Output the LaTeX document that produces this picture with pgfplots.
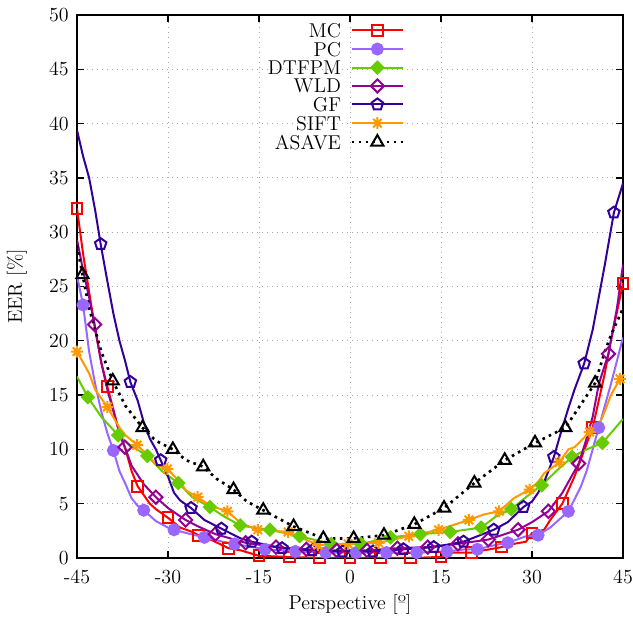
\documentclass[border=0pt]{standalone}
\usepackage{pgfplots}
\pgfplotsset{compat=1.18}
\usetikzlibrary{calc}
\definecolor{cMC}{RGB}{255,0,0}
\definecolor{cPC}{RGB}{153,102,255}
\definecolor{cDT}{RGB}{102,204,0}
\definecolor{cWLD}{RGB}{148,0,148}
\definecolor{cGF}{RGB}{51,0,153}
\definecolor{cSIFT}{RGB}{255,153,0}
\pgfdeclareplotmark{gpstar}{%
  \pgfpathmoveto{\pgfqpoint{-\pgfplotmarksize}{0pt}}\pgfpathlineto{\pgfqpoint{\pgfplotmarksize}{0pt}}%
  \pgfpathmoveto{\pgfqpoint{0pt}{-\pgfplotmarksize}}\pgfpathlineto{\pgfqpoint{0pt}{\pgfplotmarksize}}%
  \pgfpathmoveto{\pgfqpoint{-.707\pgfplotmarksize}{-.707\pgfplotmarksize}}\pgfpathlineto{\pgfqpoint{.707\pgfplotmarksize}{.707\pgfplotmarksize}}%
  \pgfpathmoveto{\pgfqpoint{-.707\pgfplotmarksize}{.707\pgfplotmarksize}}\pgfpathlineto{\pgfqpoint{.707\pgfplotmarksize}{-.707\pgfplotmarksize}}%
  \pgfusepathqstroke}
\begin{document}
\begin{tikzpicture}[font=\fontsize{12}{14}\selectfont]
\begin{axis}[
  scale only axis, width=327.6pt, height=325.8pt,
  xmin=-45, xmax=45, ymin=0, ymax=50,
  xtick={-45,-30,-15,0,15,30,45},
  xticklabels={-45,-30,-15,0,15,30,45},
  ytick={0,5,...,50},
  yticklabels={0,5,10,15,20,25,30,35,40,45,50},
  tick align=inside,
  grid=major,
  grid style={gray!70, dash pattern=on 0.6pt off 2.4pt, line width=0.6pt},
  axis line style={line width=0.8pt},
  major tick style={line width=0.8pt, black},
  major tick length=4pt,
  xticklabel style={yshift=-3.5pt},
  yticklabel style={xshift=-1.5pt},
  xlabel={Perspective [º]}, ylabel={EER [\%]},
  xlabel style={at={(axis description cs:0.5,-0.085)}, anchor=center},
  ylabel style={at={(axis description cs:-0.11,0.5)}, anchor=center},
  legend style={at={(0.474,0.99)}, anchor=north, draw=none, fill=none,
    font=\fontsize{12}{14}\selectfont, row sep=1.8pt, inner sep=1pt,
    nodes={inner sep=0.5pt, text depth=0pt},
    /tikz/every odd column/.append style={column sep=5pt}},
  legend cell align=right,
  legend plot pos=right,
  legend image code/.code={\draw[mark indices={2}] plot coordinates {(0pt,0pt)(15.5pt,0pt)(31pt,0pt)};},
  every axis plot/.append style={line width=1.2pt},
]
% MC
\addplot[cMC, mark=square, mark size=3.2pt, mark options={solid, fill=white, line width=1.2pt},
  mark indices={1,6,10,13,16,18,20,21,22,23,24,25,26,28,30,33,36,39,42}] coordinates {
(-45,32.2)(-44,28)(-43,24.5)(-42,21)(-41,18)(-40,15.8)(-38,11.5)(-37,10)(-36,8)(-35,6.6)
(-33,5)(-32,4.5)(-30,3.7)(-28,2.8)(-26,2.4)(-25,2.1)(-23,1.7)(-20,0.9)(-18,0.7)(-15,0.2)
(-10,0.1)(-5,0)(0,0)(5,0)(10,0)(15,0.1)(17,0.5)(20,0.5)(23,0.8)(25,1.0)(27,1.3)(29,1.5)
(30,2.3)(32,2.6)(33,3.5)(35,5.0)(37,7.5)(38,9)(40,12)(42,17)(43,20)(45,25.3)};
\addlegendentry{MC}
% PC
\addplot[cPC, mark=*, mark size=3.3pt, mark options={solid, fill=cPC},
  mark indices={2,7,12,15,17,19,20,21,22,23,24,25,26,28,30,32,35,39}] coordinates {
(-45,26)(-44,23.3)(-43,19)(-42,16)(-41,13.5)(-40,11.5)(-39,9.9)(-38,8)(-37,6.8)(-36,5.5)
(-35,4.8)(-34,4.4)(-32,3.4)(-30,2.8)(-29,2.6)(-27,2.3)(-24,1.9)(-21,1.5)(-19,1.3)(-14,0.8)
(-9,0.6)(-4,0.5)(1,0.5)(6,0.5)(11,0.5)(16,0.6)(19,0.8)(21,0.8)(24,1.2)(26,1.4)(29,2.0)
(31,2.1)(33,2.8)(35,3.8)(36,4.3)(38,6.5)(39,8)(40,10)(41,12)(43,16)(45,20.3)};
\addlegendentry{PC}
% DTFPM
\addplot[cDT, mark=square*, mark size=2.8pt, mark options={solid, rotate=45, fill=cDT, line width=0.6pt},
  mark indices={2,4,6,8,10,12,14,15,16,17,18,19,20,21,23,25,27,29}] coordinates {
(-45,16.7)(-43.2,14.8)(-41,13)(-38.2,11.3)(-36,10.3)(-33.4,9.4)(-31,8)(-28.3,6.9)(-26,5.6)
(-23.1,4.7)(-21,3.9)(-18.1,3.0)(-16,2.8)(-13.2,2.6)(-8.3,2.0)(-3.1,1.3)(1.8,1.3)(6.7,1.9)
(11.6,2.2)(16.5,2.4)(21.6,2.8)(24,3.8)(26.6,4.5)(29,5.6)(31.6,6.7)(34,8)(36.6,9.3)(39,10)
(41.6,10.6)(43,11.5)(45,12.8)};
\addlegendentry{DTFPM}
% WLD
\addplot[cWLD, mark=square, mark size=2.8pt, mark options={solid, rotate=45, fill=white, line width=1.2pt},
  mark indices={4,9,12,14,16,17,18,19,20,21,22,23,24,25,27,29,31,35}] coordinates {
(-45,29.3)(-44,26.5)(-43,24)(-42.1,21.5)(-41,18)(-40,15.5)(-39,13.5)(-38,11.5)(-37.1,10.2)
(-36,8.5)(-34,6.8)(-32,5.6)(-30,4.6)(-27.1,3.5)(-25,2.9)(-22.2,2.2)(-17.2,1.4)(-12.2,1.0)
(-7.2,0.8)(-2.2,0.7)(2.8,0.7)(7.8,0.9)(12.8,1.0)(17.8,1.3)(22.8,1.7)(25,2.1)(27.7,2.6)
(30,3.3)(32.7,4.3)(35,6)(37.7,8.7)(39,11)(40,13)(41,16)(42.6,18.8)(44,23)(45,27)};
\addlegendentry{WLD}
% GF
\addplot[cGF, mark=pentagon, mark size=3.6pt, mark options={solid, fill=white, line width=1.2pt},
  mark indices={5,10,15,19,21,23,24,25,26,27,28,29,30,32,34,38,42,46}] coordinates {
(-45,39.4)(-44,37)(-43,35)(-42,32)(-41.1,28.9)(-40,25.5)(-39,22.5)(-38,20)(-37,18)
(-36.2,16.2)(-35,14.5)(-34,12.5)(-33,11)(-32,10)(-31.2,9.0)(-30,7.5)(-29,6)(-28,5.3)
(-26.2,4.6)(-24,3.5)(-21.2,2.7)(-18,1.8)(-16.2,1.5)(-11.2,0.9)(-6.2,0.7)(-1.2,0.6)
(3.8,0.6)(8.8,0.8)(13.8,1.0)(18.7,1.5)(21,2.0)(23.7,2.6)(26,3.3)(28.6,4.7)(30,5.2)(31,6)
(32,7)(33.6,9.3)(35,12)(36,13.8)(37,15.5)(38.6,17.9)(40,21)(41,24)(42,27)(43.5,31.8)(45,34.5)};
\addlegendentry{GF}
% SIFT
\addplot[cSIFT, mark=gpstar, mark size=3.6pt, mark options={solid, line width=1.2pt},
  mark indices={1,4,7,10,13,15,17,18,19,20,21,22,23,24,26,28,31,34,38}] coordinates {
(-45,19.0)(-43,17)(-42,15.5)(-40,13.9)(-38,12)(-37,11.3)(-35.1,10.4)(-33,9.3)(-32,8.6)
(-30.1,8.2)(-28,7)(-27,6.2)(-25.1,5.6)(-23,4.8)(-20.2,4.3)(-18,3.2)(-15.2,2.6)(-10.2,2.4)
(-5.3,1.2)(-0.3,1.3)(4.7,1.4)(9.7,2.0)(14.6,2.6)(19.6,3.5)(22,4.0)(24.6,4.3)(27,5.5)
(29.6,6.3)(31,7.0)(32,7.8)(34.5,8.8)(36,10)(37,10.2)(39.5,11.6)(41,12.2)(42,13.5)(43,15)
(44.5,16.5)(45,16.8)};
\addlegendentry{SIFT}
% ASAVE
\addplot[black, line width=1.6pt, dash pattern=on 1.6pt off 2.6pt, mark=triangle, mark size=4.2pt,
  mark options={solid, fill=white, line width=1.2pt},
  mark indices={2,6,8,10,12,14,16,17,18,19,20,21,22,23,24,25,26,27}] coordinates {
(-45,28.8)(-44.1,26.1)(-43,23)(-42,21)(-41,19)(-39.1,16.3)(-37,14)(-34.2,12.0)(-32,10.8)
(-29.2,10.0)(-27,9.0)(-24.2,8.4)(-22,7.3)(-19.2,6.3)(-17,5.2)(-14.3,4.4)(-9.3,2.9)
(-4.4,1.8)(0.6,1.8)(5.6,2.1)(10.6,3.1)(15.5,4.6)(20.5,6.9)(25.5,9.0)(30.5,10.6)(35.5,12.0)
(40.4,16.1)(42,19)(43,20.5)(45,23)};
\addlegendentry{ASAVE}
\end{axis}
\pgfresetboundingbox
\path ($(current axis.south west)+(-46.2pt,-36pt)$) rectangle ($(current axis.north east)+(6pt,9pt)$);
\end{tikzpicture}
\end{document}
